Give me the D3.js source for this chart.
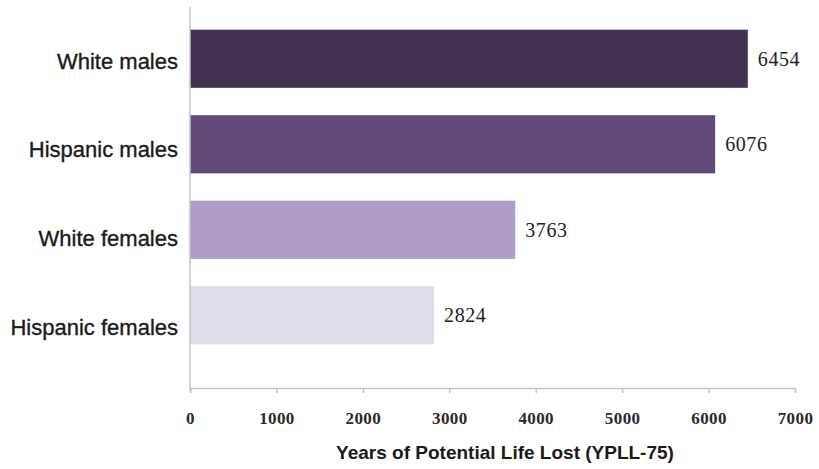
<!DOCTYPE html>
<html>
<head>
<meta charset="utf-8">
<script src="https://cdn.jsdelivr.net/npm/d3@7"></script>
<style>
  html, body { margin: 0; padding: 0; background: #ffffff; }
  svg { display: block; }
</style>
</head>
<body>
<svg id="chart" width="819" height="469"></svg>
<script>
// Years of potential life lost before age 75, by group
const categories = ["White males", "Hispanic males", "White females", "Hispanic females"];
const values = [6454, 6076, 3763, 2824];
const barColors = ["#433152", "#614a7a", "#ad9dc7", "#e2dcea"];
const xTicks = [0, 1000, 2000, 3000, 4000, 5000, 6000, 7000];
const xTitle = "Years of Potential Life Lost (YPLL-75)";

const svg = d3.select("#chart");

const x = d3.scaleLinear().domain([0, 7000]).range([190, 795]);
const y = d3.scaleBand().domain(categories).range([16, 358]).paddingInner(0.32).paddingOuter(0.16);
// category captions sit on their own evenly spaced rows
const yLabel = d3.scalePoint().domain(categories).range([61, 327]);

const axisColor = "#c4c4c4";

// bars
svg.append("g")
  .selectAll("rect")
  .data(categories)
  .join("rect")
  .attr("x", x(0))
  .attr("y", d => y(d))
  .attr("width", (d, i) => x(values[i]) - x(0))
  .attr("height", y.bandwidth())
  .attr("fill", (d, i) => barColors[i]);

// value labels at bar ends
svg.append("g")
  .selectAll("text")
  .data(categories)
  .join("text")
  .attr("x", (d, i) => x(values[i]) + 10)
  .attr("y", d => y(d) + y.bandwidth() / 2)
  .attr("dy", "0.35em")
  .attr("font-family", "'Liberation Serif', 'Times New Roman', serif")
  .attr("font-size", 20)
  .attr("letter-spacing", 0.6)
  .attr("fill", "#222")
  .text((d, i) => values[i]);

// category labels
svg.append("g")
  .selectAll("text")
  .data(categories)
  .join("text")
  .attr("x", 178)
  .attr("y", d => yLabel(d))
  .attr("dy", "0.35em")
  .attr("text-anchor", "end")
  .attr("font-family", "'Liberation Sans', Arial, sans-serif")
  .attr("font-size", 22)
  .attr("fill", "#1a1a1a")
  .attr("stroke", "#1a1a1a")
  .attr("stroke-width", 0.35)
  .text(d => d);

// vertical axis line
svg.append("line")
  .attr("x1", x(0)).attr("x2", x(0))
  .attr("y1", 7).attr("y2", 388)
  .attr("stroke", axisColor).attr("stroke-width", 1.5);

// horizontal axis
const xAxis = d3.axisBottom(x)
  .tickValues(xTicks)
  .tickSize(5)
  .tickPadding(19)
  .tickFormat(d3.format("d"));

const gx = svg.append("g")
  .attr("transform", "translate(0,388)")
  .call(xAxis);
gx.select(".domain").attr("stroke", axisColor).attr("stroke-width", 1.5);
gx.selectAll(".tick line").attr("stroke", axisColor).attr("stroke-width", 1.5);
gx.selectAll(".tick text")
  .attr("font-family", "'Liberation Serif', 'Times New Roman', serif")
  .attr("font-weight", "bold")
  .attr("font-size", 17)
  .attr("letter-spacing", 0.4)
  .attr("fill", "#2a2a2a");

// axis title
svg.append("text")
  .attr("x", 505)
  .attr("y", 459)
  .attr("text-anchor", "middle")
  .attr("font-family", "'Liberation Sans', Arial, sans-serif")
  .attr("font-weight", "bold")
  .attr("font-size", 19)
  .attr("fill", "#1a1a1a")
  .text(xTitle);
</script>
</body>
</html>
